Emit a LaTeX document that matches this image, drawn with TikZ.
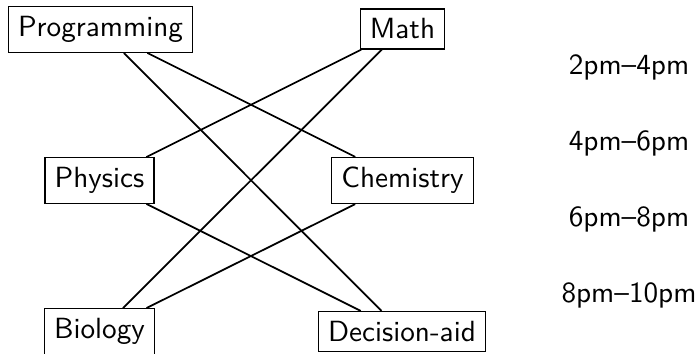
\documentclass[tikz,border=0pt]{standalone}
\begin{document}
\begin{tikzpicture}[x=0.3425pt,y=-0.3425pt,font=\sffamily,
  box/.style={draw,inner sep=3.33pt},
  link/.style={semithick},
  slot/.style={inner sep=0pt}]
\useasboundingbox (0,0) rectangle (699,354);
\node[box] (prog) at (100.5,29.5) {Programming};
\node[box] (math) at (402.5,29) {Math};
\node[box] (phys) at (99.5,180.5) {Physics};
\node[box] (chem) at (402.5,180.5) {Chemistry};
\node[box] (bio) at (99.5,331.5) {Biology};
\node[box] (dec) at (402,331.5) {Decision-aid};
\node[slot] (t1) at (629,67) {2pm--4pm};
\node[slot] (t2) at (629,143) {4pm--6pm};
\node[slot] (t3) at (629,219) {6pm--8pm};
\node[slot] (t4) at (629,295) {8pm--10pm};
\draw[link] (prog) -- (chem);
\draw[link] (prog) -- (dec);
\draw[link] (math) -- (phys);
\draw[link] (math) -- (bio);
\draw[link] (phys) -- (dec);
\draw[link] (chem) -- (bio);
\end{tikzpicture}
\end{document}
